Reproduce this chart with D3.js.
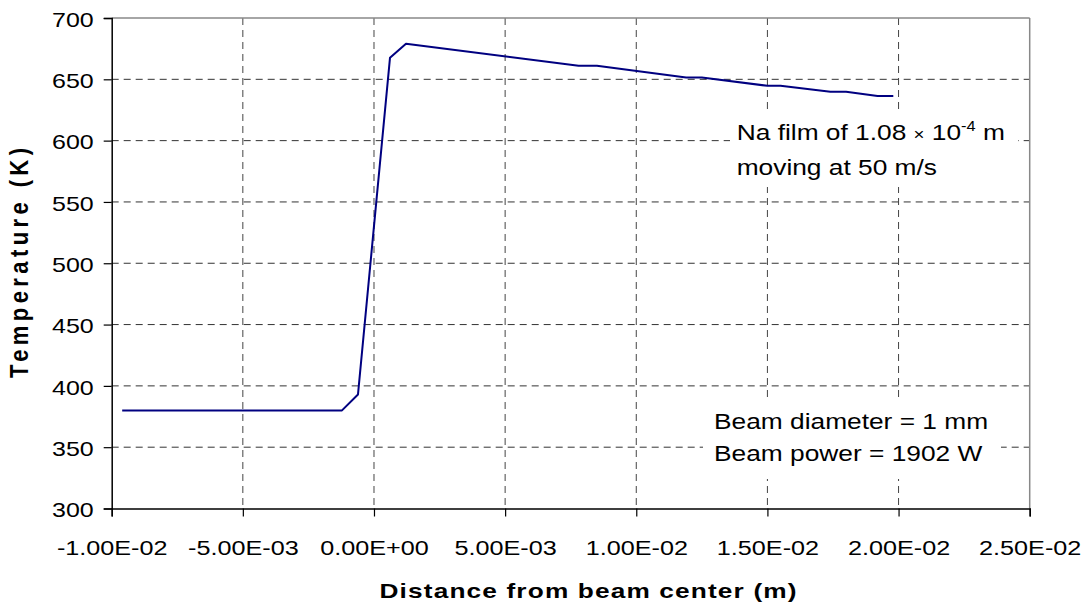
<!DOCTYPE html>
<html>
<head>
<meta charset="utf-8">
<script src="https://cdn.jsdelivr.net/npm/d3@7"></script>
<style>
  html, body { margin: 0; padding: 0; background: #fff; }
  svg { display: block; }
  text { font-family: "Liberation Sans", Arial, sans-serif; fill: #000; }
</style>
</head>
<body>
<svg id="chart" width="1089" height="609"></svg>
<script>
// ---- data ----
const xValues = [-0.0096, -0.00122, -0.00061, 0.00061, 0.00122, 0.0078, 0.0085, 0.0119, 0.0125, 0.0150, 0.0155, 0.0174, 0.0180, 0.0192, 0.0198];
const tempValues = [380, 380, 393, 667.5, 679, 661, 661, 651.5, 651.5, 644.7, 644.7, 639.8, 639.8, 636.3, 636.3];
const xTicks = [-0.01, -0.005, 0, 0.005, 0.01, 0.015, 0.02, 0.025];
const xTickLabels = ["-1.00E-02", "-5.00E-03", "0.00E+00", "5.00E-03", "1.00E-02", "1.50E-02", "2.00E-02", "2.50E-02"];
const yTicks = [300, 350, 400, 450, 500, 550, 600, 650, 700];
const yTickLabels = ["300", "350", "400", "450", "500", "550", "600", "650", "700"];
const xTitle = "Distance from beam center (m)";
const yTitle = "Temperature (K)";

// ---- layout ----
const L = 111.7, R = 1029.7, T = 18, B = 508.5;
const SX = 1.19; // horizontal stretch of the reference text

const svg = d3.select("#chart");
const x = d3.scaleLinear().domain([-0.01, 0.025]).range([L, R]);
const y = d3.scaleLinear().domain([300, 700]).range([B, T]);

// gridlines
const grid = svg.append("g");
grid.selectAll("line.hg").data(yTicks.slice(1, -1)).join("line")
  .attr("x1", L).attr("x2", R)
  .attr("y1", d => y(d)).attr("y2", d => y(d))
  .attr("stroke", "#333").attr("stroke-width", 1).attr("stroke-dasharray", "7,5");
grid.selectAll("line.vg").data(xTicks.slice(1, -1)).join("line")
  .attr("y1", T).attr("y2", B)
  .attr("x1", d => x(d)).attr("x2", d => x(d))
  .attr("stroke", "#444").attr("stroke-width", 1).attr("stroke-dasharray", "7,5");

// plot border (top/right grey)
svg.append("line").attr("x1", L).attr("x2", R).attr("y1", T).attr("y2", T).attr("stroke", "#888").attr("stroke-width", 1.5);
svg.append("line").attr("x1", R).attr("x2", R).attr("y1", T).attr("y2", B).attr("stroke", "#888").attr("stroke-width", 1.5);

// annotation boxes (opaque)
svg.append("rect").attr("x", 730).attr("y", 110).attr("width", 288).attr("height", 77).attr("fill", "#fff");
svg.append("rect").attr("x", 703).attr("y", 398).attr("width", 298).attr("height", 81).attr("fill", "#fff");

// axes
const yAxis = svg.append("g").attr("transform", `translate(${L},0)`)
  .call(d3.axisLeft(y).tickValues(yTicks).tickSize(8).tickFormat((d, i) => yTickLabels[i]));
const xAxis = svg.append("g").attr("transform", `translate(0,${B})`)
  .call(d3.axisBottom(x).tickValues(xTicks).tickSize(8).tickFormat((d, i) => xTickLabels[i]));
[yAxis, xAxis].forEach(g => {
  g.select(".domain").attr("stroke", "#000").attr("stroke-width", 1.5);
  g.selectAll(".tick line").attr("stroke", "#000").attr("stroke-width", 1.2);
  g.selectAll("text").attr("font-size", 21).attr("font-family", "Liberation Sans, Arial, sans-serif");
});
yAxis.selectAll(".tick text").attr("x", null).attr("dy", null)
  .attr("text-anchor", "end").attr("dominant-baseline", "central")
  .attr("transform", `translate(-18,1) scale(${SX},1)`);
xAxis.selectAll(".tick text").attr("y", null).attr("dy", null)
  .attr("text-anchor", "middle")
  .attr("transform", `translate(0,46.5) scale(1.2,1)`);

// line
const line = d3.line().x((d, i) => x(xValues[i])).y(d => y(d));
svg.append("path").datum(tempValues).attr("d", line)
  .attr("fill", "none").attr("stroke", "#000080").attr("stroke-width", 2).attr("stroke-linejoin", "round");

// titles
svg.append("text").attr("transform", `translate(588,598) scale(1.25,1)`)
  .attr("text-anchor", "middle").attr("font-size", 21).attr("font-weight", "bold")
  .attr("textLength", 417 / 1.25).attr("lengthAdjust", "spacing").text(xTitle);
svg.append("text").attr("transform", `translate(28,263) scale(${SX},1) rotate(-90)`)
  .attr("text-anchor", "middle").attr("font-size", 22).attr("font-weight", "bold")
  .attr("textLength", 230).attr("lengthAdjust", "spacing").text(yTitle);

// annotations
const ann = (tx, ty) => svg.append("text").attr("transform", `translate(${tx},${ty}) scale(1.17,1)`).attr("font-size", 22.5);
const t1 = ann(736.7, 140);
t1.append("tspan").text("Na film of 1.08 ");
t1.append("tspan").attr("font-size", 16).text("×");
t1.append("tspan").text(" 10");
t1.append("tspan").attr("font-size", 14).attr("dy", -9).text("-4");
t1.append("tspan").attr("dy", 9).text(" m");
ann(736.7, 175).text("moving at 50 m/s");
ann(714, 428.5).text("Beam diameter = 1 mm");
ann(714, 461).text("Beam power = 1902 W");
</script>
</body>
</html>
